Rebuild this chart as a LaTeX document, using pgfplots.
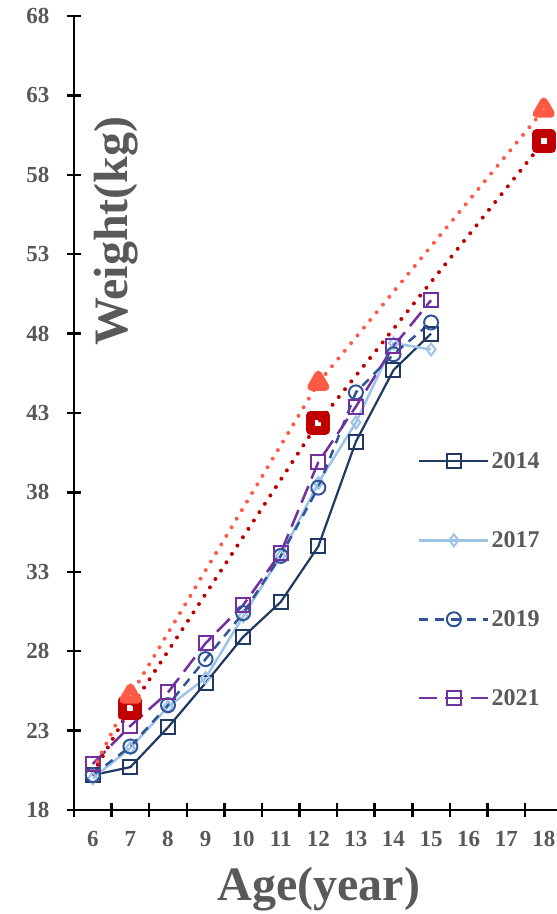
\documentclass[border=0pt]{standalone}
\usepackage{fontspec}
\setmainfont{Liberation Serif}
\usepackage{pgfplots}
\pgfplotsset{compat=1.18}
\definecolor{c14}{HTML}{1F3864}
\definecolor{c17}{HTML}{9DC3E6}
\definecolor{c19}{HTML}{2F5597}
\definecolor{c21}{HTML}{7030A0}
\definecolor{refA}{HTML}{FF5A46}
\definecolor{refB}{HTML}{C00000}
\definecolor{txt}{HTML}{595959}

\begin{document}
\begin{tikzpicture}
\path[use as bounding box] (-74bp,-104bp) rectangle (483bp,810bp);
\begin{axis}[
    scale only axis,
    width=483bp, height=794bp,
    xmin=5.5, xmax=18.35,
    ymin=18, ymax=68,
    axis lines=left,
    axis line style={-, line width=2.5bp, black},
    tick align=center,
    major tick length=14bp,
    tick style={line width=2.5bp, black},
    xtick={5.5,6.5,...,17.5},
    xticklabels={},
    extra x ticks={6,7,...,18},
    extra x tick style={major tick length=0pt},
    ytick={18,23,...,68},
    minor tick num=0,
    /pgf/number format/assume math mode=true,
    ticklabel style={font=\fontsize{23bp}{23bp}\bfseries\selectfont, text=txt},
    yticklabel style={xshift=-14bp},
    xticklabel style={yshift=-18bp},
    xlabel={Age(year)},
    ylabel={Weight(kg)},
    label style={font=\fontsize{48bp}{48bp}\bfseries\selectfont, text=txt},
    xlabel style={at={(rel axis cs:0.507,0)}, anchor=base, yshift=-90bp},
    ylabel style={at={(rel axis cs:0.087,0.729)}, anchor=center},
    legend style={draw=none, fill=none, at={(rel axis cs:0.712,0.4528)}, anchor=north west,
        row sep=57.5bp, font=\fontsize{24bp}{24bp}\bfseries\selectfont, text=txt,
        inner sep=0pt},
    legend cell align=left,
    legend image code/.code={\draw[mark repeat=2,mark phase=2,#1] plot coordinates {(0bp,0bp)(34.5bp,0bp)(69bp,0bp)};},
    clip=false,
]
\addplot[c14, line width=2.2bp, mark=square, mark size=7bp, mark options={solid, line width=2bp}] coordinates {
    (6,20.2)(7,20.7)(8,23.2)(9,26.0)(10,28.9)(11,31.1)(12,34.6)(13,41.2)(14,45.7)(15,48.0)};
\addlegendentry{2014}
\addplot[c17, line width=2.5bp, mark=diamond, mark size=6bp, mark options={solid, line width=2bp}] coordinates {
    (6,20.0)(7,21.9)(8,24.5)(9,26.3)(10,30.2)(11,34.0)(12,38.6)(13,42.4)(14,47.4)(15,47.0)};
\addlegendentry{2017}
\addplot[c19, line width=2.5bp, dash pattern=on 9bp off 7bp, mark=o, mark size=7bp, mark options={solid, line width=2bp}] coordinates {
    (6,20.2)(7,22.0)(8,24.6)(9,27.5)(10,30.4)(11,34.0)(12,38.3)(13,44.3)(14,46.7)(15,48.7)};
\addlegendentry{2019}
\addplot[c21, line width=2.5bp, dash pattern=on 18bp off 8bp, mark=square, mark size=7bp, mark options={solid, line width=2bp}] coordinates {
    (6,20.9)(7,23.3)(8,25.4)(9,28.5)(10,30.9)(11,34.2)(12,39.9)(13,43.4)(14,47.2)(15,50.1)};
\addlegendentry{2021}
\addplot[forget plot, refB, line width=4bp, line cap=round, dash pattern=on 0bp off 10bp,
    mark=square, mark size=7.5bp, mark indices={2,3,4}, mark options={solid, line width=9bp, line join=round}] coordinates {
    (6,20.3)(7,24.4)(12,42.4)(18,60.1)};
\addplot[forget plot, refA, line width=4bp, line cap=round, dash pattern=on 0bp off 10bp,
    mark=triangle, mark size=8.5bp, mark indices={2,3,4}, mark options={solid, line width=7.5bp, line join=round}] coordinates {
    (6,20.5)(7,25.2)(12,44.9)(18,62.1)};
\end{axis}
\end{tikzpicture}
\end{document}
